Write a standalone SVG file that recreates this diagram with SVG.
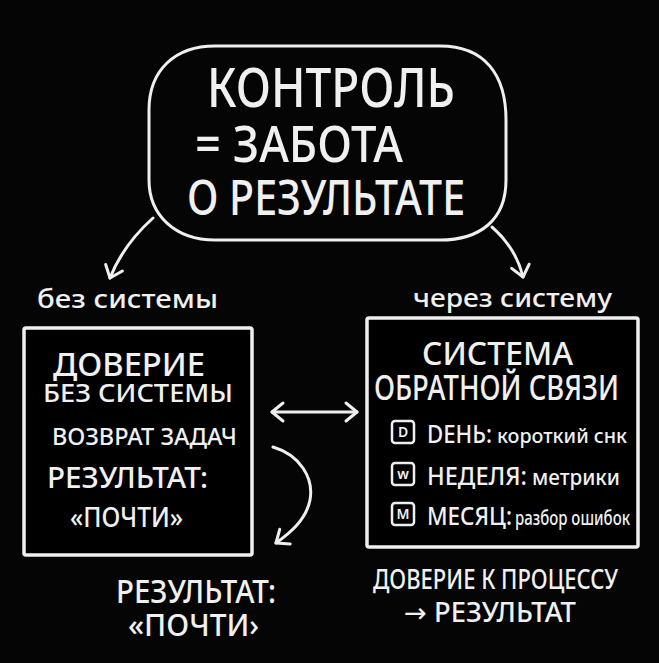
<svg xmlns="http://www.w3.org/2000/svg" width="659" height="663" viewBox="0 0 659 663">
<style>
.bg{fill:#050505}
.ln{fill:none;stroke:#efefef;stroke-width:3;stroke-linecap:round;stroke-linejoin:round}
.bx{fill:#000;stroke:#efefef;stroke-width:3.5}
.ic{fill:none;stroke:#efefef;stroke-width:2.5}
text{fill:#f0f0f0;font-family:"Noto Sans","Open Sans","DejaVu Sans",sans-serif;font-weight:500}
.ict{font-size:14px;font-weight:600;text-anchor:middle}
</style>
<defs>
<marker id="ah" viewBox="-15 -15 30 30" markerWidth="30" markerHeight="30" refX="0" refY="0" markerUnits="userSpaceOnUse" orient="auto-start-reverse" overflow="visible">
<path d="M-11,-9 L0,0 L-11,9" fill="none" stroke="#efefef" stroke-width="3" stroke-linecap="round" stroke-linejoin="round"/>
</marker>
</defs>
<rect class="bg" x="0" y="0" width="659" height="663"/>

<g id="connectors">
<path class="ln" d="M153,218 Q123,245 110,278" marker-end="url(#ah)"/>
<path class="ln" d="M492,227 Q516,248 523,277" marker-end="url(#ah)"/>
<path class="ln" d="M272,412 L357,412" marker-start="url(#ah)" marker-end="url(#ah)"/>
<path class="ln" d="M273,447 C300,455 314,478 310,500 C306,520 290,533 276,543" marker-end="url(#ah)"/>
</g>

<g id="title">
<path class="ln" d="M215,46 L440,46 C485,46 506,75 506,120 L506,180 C506,220 480,240 440,240 L215,240 C175,240 149,215 149,180 L149,110 C149,70 175,46 215,46 Z"/>
<text x="207" y="107" font-size="55" textLength="248" lengthAdjust="spacingAndGlyphs">КОНТРОЛЬ</text>
<text x="195" y="162" font-size="51" textLength="208" lengthAdjust="spacingAndGlyphs">= ЗАБОТА</text>
<text x="187" y="215" font-size="49" textLength="278" lengthAdjust="spacingAndGlyphs">О РЕЗУЛЬТАТЕ</text>
</g>

<g id="label-left">
<text x="37" y="308" font-size="26" textLength="181" lengthAdjust="spacingAndGlyphs">без системы</text>
</g>
<g id="label-right">
<text x="413" y="307" font-size="26" textLength="199" lengthAdjust="spacingAndGlyphs">через систему</text>
</g>

<g id="box-left">
<rect class="bx" x="24" y="328" width="228" height="227" rx="2"/>
<text x="53" y="376" font-size="33" textLength="152" lengthAdjust="spacingAndGlyphs">ДОВЕРИЕ</text>
<text x="43" y="402" font-size="26" textLength="190" lengthAdjust="spacingAndGlyphs">БЕЗ СИСТЕМЫ</text>
<text x="52" y="445" font-size="24" textLength="185" lengthAdjust="spacingAndGlyphs">ВОЗВРАТ ЗАДАЧ</text>
<text x="47" y="488" font-size="28" textLength="161" lengthAdjust="spacingAndGlyphs">РЕЗУЛЬТАТ:</text>
<text x="70" y="527" font-size="27" textLength="113" lengthAdjust="spacingAndGlyphs">«ПОЧТИ»</text>
</g>

<g id="box-right">
<rect class="bx" x="367" y="318" width="271" height="229" rx="2"/>
<text x="422" y="365" font-size="33" textLength="151" lengthAdjust="spacingAndGlyphs">СИСТЕМА</text>
<text x="374" y="400" font-size="34" textLength="245" lengthAdjust="spacingAndGlyphs">ОБРАТНОЙ СВЯЗИ</text>
<rect class="ic" x="392" y="421" width="22" height="22" rx="3"/>
<text class="ict" x="403" y="437">D</text>
<text x="427" y="443" font-size="26" textLength="65" lengthAdjust="spacingAndGlyphs">DEНЬ:</text>
<text x="497" y="443" font-size="20" textLength="130" lengthAdjust="spacingAndGlyphs">короткий снк</text>
<rect class="ic" x="392" y="463" width="22" height="22" rx="3"/>
<text class="ict" x="403" y="479">w</text>
<text x="427" y="485" font-size="26" textLength="100" lengthAdjust="spacingAndGlyphs">НЕДЕЛЯ:</text>
<text x="532" y="485" font-size="22" textLength="88" lengthAdjust="spacingAndGlyphs">метрики</text>
<rect class="ic" x="392" y="503" width="22" height="22" rx="3"/>
<text class="ict" x="403" y="519">M</text>
<text x="427" y="525" font-size="26" textLength="85" lengthAdjust="spacingAndGlyphs">МЕСЯЦ:</text>
<text x="515" y="525" font-size="19" textLength="115" lengthAdjust="spacingAndGlyphs">разбор ошибок</text>
</g>

<g id="result-left">
<text x="116" y="603" font-size="33" textLength="160" lengthAdjust="spacingAndGlyphs">РЕЗУЛЬТАТ:</text>
<text x="128" y="636" font-size="31" textLength="131" lengthAdjust="spacingAndGlyphs">«ПОЧТИ›</text>
</g>

<g id="result-right">
<text x="373" y="589" font-size="27" textLength="245" lengthAdjust="spacingAndGlyphs">ДОВЕРИЕ К ПРОЦЕССУ</text>
<text x="404" y="622" font-size="27" textLength="172" lengthAdjust="spacingAndGlyphs">→ РЕЗУЛЬТАТ</text>
</g>
</svg>
